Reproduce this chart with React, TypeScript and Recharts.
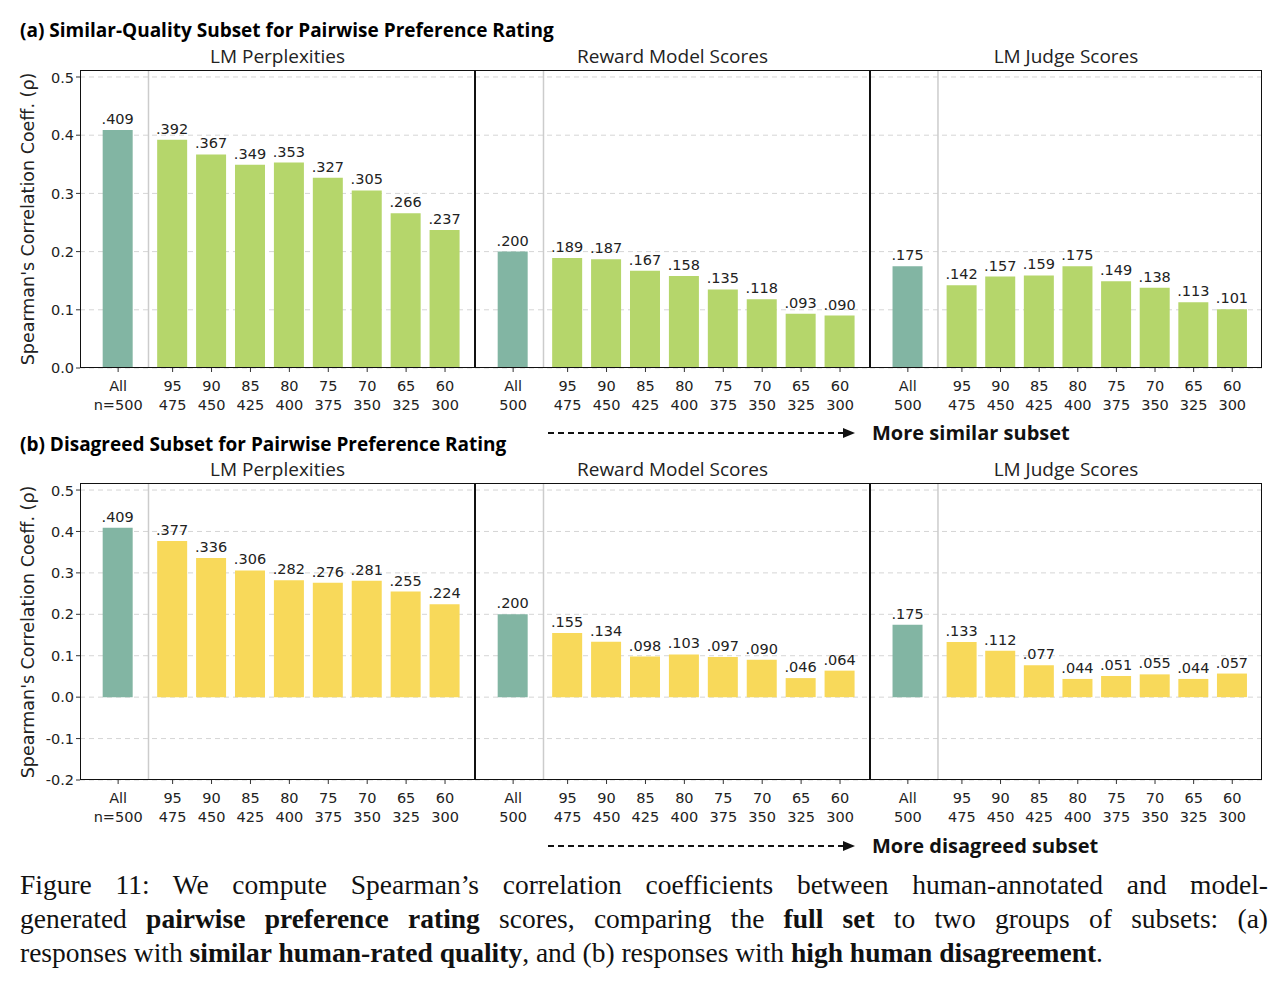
import React from 'react';
import { BarChart, Bar, XAxis, YAxis, CartesianGrid, Cell, LabelList, ReferenceLine } from 'recharts';

const positions = [0, 1.4, 2.4, 3.4, 4.4, 5.4, 6.4, 7.4, 8.4];
const thresholds = ['All', '95', '90', '85', '80', '75', '70', '65', '60'];
const sizesFirst = ['n=500', '475', '450', '425', '400', '375', '350', '325', '300'];
const sizesOther = ['500', '475', '450', '425', '400', '375', '350', '325', '300'];
const panelTitles = ['LM Perplexities', 'Reward Model Scores', 'LM Judge Scores'];

const similarLM = [0.409, 0.392, 0.367, 0.349, 0.353, 0.327, 0.305, 0.266, 0.237];
const similarRM = [0.2, 0.189, 0.187, 0.167, 0.158, 0.135, 0.118, 0.093, 0.09];
const similarJudge = [0.175, 0.142, 0.157, 0.159, 0.175, 0.149, 0.138, 0.113, 0.101];
const disagreedLM = [0.409, 0.377, 0.336, 0.306, 0.282, 0.276, 0.281, 0.255, 0.224];
const disagreedRM = [0.2, 0.155, 0.134, 0.098, 0.103, 0.097, 0.09, 0.046, 0.064];
const disagreedJudge = [0.175, 0.133, 0.112, 0.077, 0.044, 0.051, 0.055, 0.044, 0.057];

const ticksA = [0, 0.1, 0.2, 0.3, 0.4, 0.5];
const ticksB = [-0.2, -0.1, 0, 0.1, 0.2, 0.3, 0.4, 0.5];

const TEAL = '#82b5a3';
const GREEN = '#b5d66b';
const YELLOW = '#f8d95a';
const FONT = '"DejaVu Sans", sans-serif';
const BOLD = '"Open Sans", sans-serif';

const panelLefts = [80, 475, 870];
const panelWidths = [395, 395, 392];
const AXIS_W = 80;

const fmt = (v: number) => v.toFixed(3).replace(/^0/, '');

function Panel({ idx, values, top, height, domain, ticks, color }: any) {
  const sizes = idx === 0 ? sizesFirst : sizesOther;
  const data = positions.map((p, i) => ({ x: p, v: values[i] }));
  const yw = idx === 0 ? AXIS_W : 0;
  const Tick = (props: any) => {
    const { x, y, payload } = props;
    const i = positions.indexOf(payload.value);
    return (
      <text x={x} y={y + 17} textAnchor="middle" fontSize={14.5} fill="#222" fontFamily={FONT}>
        <tspan x={x} dy={0}>{thresholds[i]}</tspan>
        <tspan x={x} dy={19}>{sizes[i]}</tspan>
      </text>
    );
  };
  return (
    <div style={{ position: 'absolute', left: panelLefts[idx] - yw, top }}>
      <BarChart width={panelWidths[idx] + yw} height={height + 50} data={data}
        margin={{ top: 0, right: 0, left: 0, bottom: 0 }}>
        <CartesianGrid vertical={false} stroke="#d5d5d5" strokeDasharray="5 4" />
        <XAxis dataKey="x" type="number" domain={[-0.98, 9.17]} ticks={positions} tick={<Tick />}
          height={50} axisLine={false} tickLine={{ stroke: '#333' }} tickSize={4} interval={0} allowDataOverflow />
        <YAxis type="number" domain={domain} ticks={ticks} allowDataOverflow hide={idx !== 0} width={AXIS_W}
          axisLine={false} tickLine={{ stroke: '#333' }} tickSize={4}
          tickFormatter={(v: number) => v.toFixed(1)}
          tick={{ fontSize: 14.5, fill: '#222', fontFamily: FONT }} />
        <ReferenceLine x={0.78} stroke="#cccccc" strokeWidth={1.5} />
        <Bar dataKey="v" barSize={30} isAnimationActive={false}>
          {data.map((d, i) => <Cell key={i} fill={i === 0 ? TEAL : color} />)}
          <LabelList dataKey="v" position="top" offset={6} formatter={(v: any) => fmt(v)}
            style={{ fontSize: 14.5, fill: '#222', fontFamily: FONT }} />
        </Bar>
      </BarChart>
      <div style={{ position: 'absolute', left: yw, top: 0, width: panelWidths[idx], height,
        border: '1.5px solid #111', boxSizing: 'border-box', pointerEvents: 'none' }} />
      <div style={{ position: 'absolute', left: yw, top: -25, width: panelWidths[idx], textAlign: 'center',
        fontSize: 19, fontFamily: BOLD, color: '#222', lineHeight: '22px' }}>{panelTitles[idx]}</div>
    </div>
  );
}

function Arrow({ top, label }: { top: number; label: string }) {
  return (
    <>
      <svg style={{ position: 'absolute', left: 545, top: top - 8 }} width={320} height={16}>
        <line x1={3} y1={8} x2={300} y2={8} stroke="#111" strokeWidth={2} strokeDasharray="6 4" />
        <polygon points="298,3 310,8 298,13" fill="#111" />
      </svg>
      <div style={{ position: 'absolute', left: 872, top: top - 13, fontSize: 20, fontWeight: 'bold', lineHeight: '26px',
        fontFamily: BOLD, color: '#111' }}>{label}</div>
    </>
  );
}

function YLabel({ top, height }: { top: number; height: number }) {
  return (
    <div style={{ position: 'absolute', left: 28, top: top + height / 2, transform: 'translate(-50%, -50%) rotate(-90deg)',
      whiteSpace: 'nowrap', fontSize: 17.5, fontFamily: FONT, color: '#222' }}>
      Spearman's Correlation Coeff. (ρ)
    </div>
  );
}

const capLine: React.CSSProperties = { display: 'block', textAlign: 'justify', textAlignLast: 'justify', whiteSpace: 'nowrap' };

export default function App() {
  const rowA = [similarLM, similarRM, similarJudge];
  const rowB = [disagreedLM, disagreedRM, disagreedJudge];
  return (
    <div style={{ position: 'absolute', left: 0, top: 0, width: 1288, height: 994, background: '#fff' }}>
      <div style={{ position: 'absolute', left: 20, top: 17, fontSize: 19, fontWeight: 'bold', fontFamily: BOLD, lineHeight: '26px' }}>
        (a) Similar-Quality Subset for Pairwise Preference Rating
      </div>
      {rowA.map((v, i) => (
        <Panel key={i} idx={i} values={v} top={70} height={298} domain={[0, 0.512]} ticks={ticksA} color={GREEN} />
      ))}
      <YLabel top={70} height={298} />
      <Arrow top={433} label="More similar subset" />
      <div style={{ position: 'absolute', left: 20, top: 431, fontSize: 19, fontWeight: 'bold', fontFamily: BOLD, lineHeight: '26px' }}>
        (b) Disagreed Subset for Pairwise Preference Rating
      </div>
      {rowB.map((v, i) => (
        <Panel key={i} idx={i} values={v} top={483} height={297} domain={[-0.2, 0.517]} ticks={ticksB} color={YELLOW} />
      ))}
      <YLabel top={483} height={297} />
      <Arrow top={846} label="More disagreed subset" />
      <div style={{ position: 'absolute', left: 20, top: 868, width: 1248, fontSize: 27.5, lineHeight: '34px',
        fontFamily: '"Liberation Serif", serif', color: '#111' }}>
        <span style={capLine}>Figure 11: We compute Spearman’s correlation coefficients between human-annotated and model-</span>
        <span style={capLine}>generated <b>pairwise preference rating</b> scores, comparing the <b>full set</b> to two groups of subsets: (a)</span>
        <span style={{ display: 'block', whiteSpace: 'nowrap' }}>responses with <b>similar human-rated quality</b>, and (b) responses with <b>high human disagreement</b>.</span>
      </div>
    </div>
  );
}
